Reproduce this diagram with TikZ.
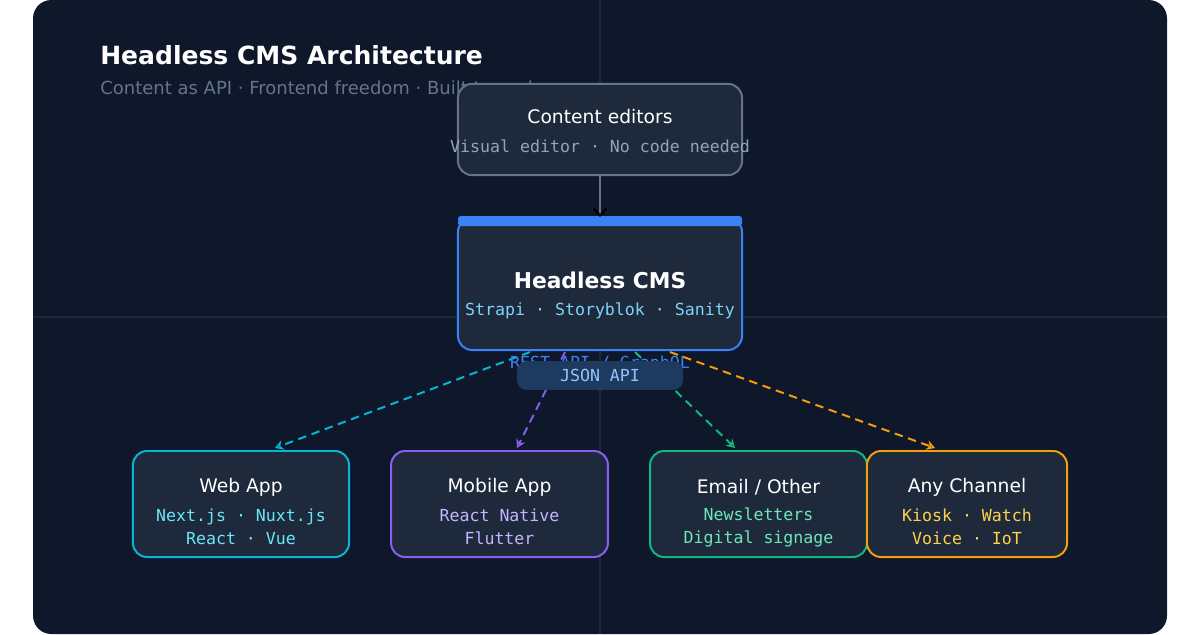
\documentclass[tikz,border=0pt]{standalone}
\usepackage{fontspec}
\setmainfont{DejaVu Sans}
\setmonofont{DejaVu Sans Mono}
\usetikzlibrary{arrows.meta}
\definecolor{panel}{HTML}{0F172A}
\definecolor{gridc}{HTML}{1E293B}
\definecolor{boxfill}{HTML}{1E293B}
\definecolor{slate}{HTML}{64748B}
\definecolor{subgray}{HTML}{94A3B8}
\definecolor{blue}{HTML}{3B82F6}
\definecolor{pill}{HTML}{1E3A5F}
\definecolor{pilltxt}{HTML}{93C5FD}
\definecolor{sky}{HTML}{7DD3FC}
\definecolor{cyan}{HTML}{06B6D4}
\definecolor{cyantxt}{HTML}{67E8F9}
\definecolor{violet}{HTML}{8B5CF6}
\definecolor{violettxt}{HTML}{C4B5FD}
\definecolor{green}{HTML}{10B981}
\definecolor{greentxt}{HTML}{6EE7B7}
\definecolor{orange}{HTML}{F59E0B}
\definecolor{orangetxt}{HTML}{FCD34D}
\tikzset{
  box/.style={draw,fill=boxfill,rounded corners=10pt,line width=1.4pt,minimum width=5.4cm,minimum height=2.65cm},
  boxtitle/.style={text=white,font=\fontsize{13.3}{16}\selectfont},
  boxsub/.style={font=\ttfamily\fontsize{11.8}{16.3}\selectfont},
  flow/.style={dash pattern=on 6pt off 4pt,line width=1.4pt,-{Stealth[open,length=6pt,width=7pt]}}
}
\begin{document}
\begin{tikzpicture}[x=0.025cm,y=-0.025cm]
\useasboundingbox (0,0) rectangle (1200,634);
\fill[panel,rounded corners=13pt] (33,0) rectangle (1167,634);
\draw[gridc,line width=0.8pt] (600,0) -- (600,634) (33,317) -- (1167,317);
% title
\node[anchor=west,inner sep=0pt,text=white,font=\bfseries\fontsize{17.8}{20}\selectfont] (title) at (100,55) {Headless CMS Architecture};
\node[anchor=west,inner sep=0pt,text=slate,font=\fontsize{12.8}{15}\selectfont] (subtitle) at (100,88) {Content as API · Frontend freedom · Built to scale};
% dashed fan-out
\coordinate (c1) at (530,352);
\coordinate (c2) at (565,352);
\coordinate (c3) at (635,352);
\coordinate (c4) at (670,352);
\coordinate (w) at (275,448);
\coordinate (m) at (517,448);
\coordinate (e) at (735,448);
\coordinate (a) at (935,448);
\draw[flow,cyan] (c1) -- (w);
\draw[flow,violet] (c2) -- (m);
\draw[flow,green] (c3) -- (e);
\draw[flow,orange] (c4) -- (a);
% top boxes
\node[box,draw=slate,minimum width=7.1cm,minimum height=2.28cm] (editors) at (600,129.5) {};
\node[boxtitle] at (600,117) {Content editors};
\node[boxsub,text=subgray] at (600,146) {Visual editor · No code needed};
\node[box,draw=blue,minimum width=7.1cm,minimum height=3.3cm] (cms) at (600,284) {};
\fill[blue,rounded corners=2pt] (458,216) rectangle (742,226);
\node[text=white,font=\bfseries\fontsize{15.5}{18}\selectfont] (cmstitle) at (600,280) {Headless CMS};
\node[boxsub,text=sky] at (600,311) {Strapi · Storyblok · Sanity};
\draw[slate,line width=1.4pt,-{Straight Barb[length=5pt,width=9pt,black]}] (editors) -- (cms);
% api
\node[boxsub,text=blue] (rest) at (600,364) {REST API / GraphQL};
\node[fill=pill,rounded corners=7pt,minimum width=4.15cm,minimum height=0.72cm,text=pilltxt,font=\ttfamily\fontsize{11.8}{13}\selectfont] (json) at (600,375.5) {JSON API};
% channels
\node[box,draw=cyan,minimum width=5.4cm] (web) at (241,504) {};
\node[boxtitle] at (241,487) {Web App};
\node[boxsub,text=cyantxt,align=center] at (241,527) {Next.js · Nuxt.js\\React · Vue};
\node[box,draw=violet,minimum width=5.42cm] (mobile) at (499.5,504) {};
\node[boxtitle] at (499.5,487) {Mobile App};
\node[boxsub,text=violettxt,align=center] at (499.5,527) {React Native\\Flutter};
\node[box,draw=green,minimum width=5.42cm] (email) at (758.5,504) {};
\node[boxtitle] at (758.5,487) {Email / Other};
\node[boxsub,text=greentxt,align=center] at (758.5,527) {Newsletters\\Digital signage};
\node[box,draw=orange,minimum width=5cm] (any) at (967,504) {};
\node[boxtitle] at (967,487) {Any Channel};
\node[boxsub,text=orangetxt,align=center] at (967,527) {Kiosk · Watch\\Voice · IoT};
\end{tikzpicture}
\end{document}
